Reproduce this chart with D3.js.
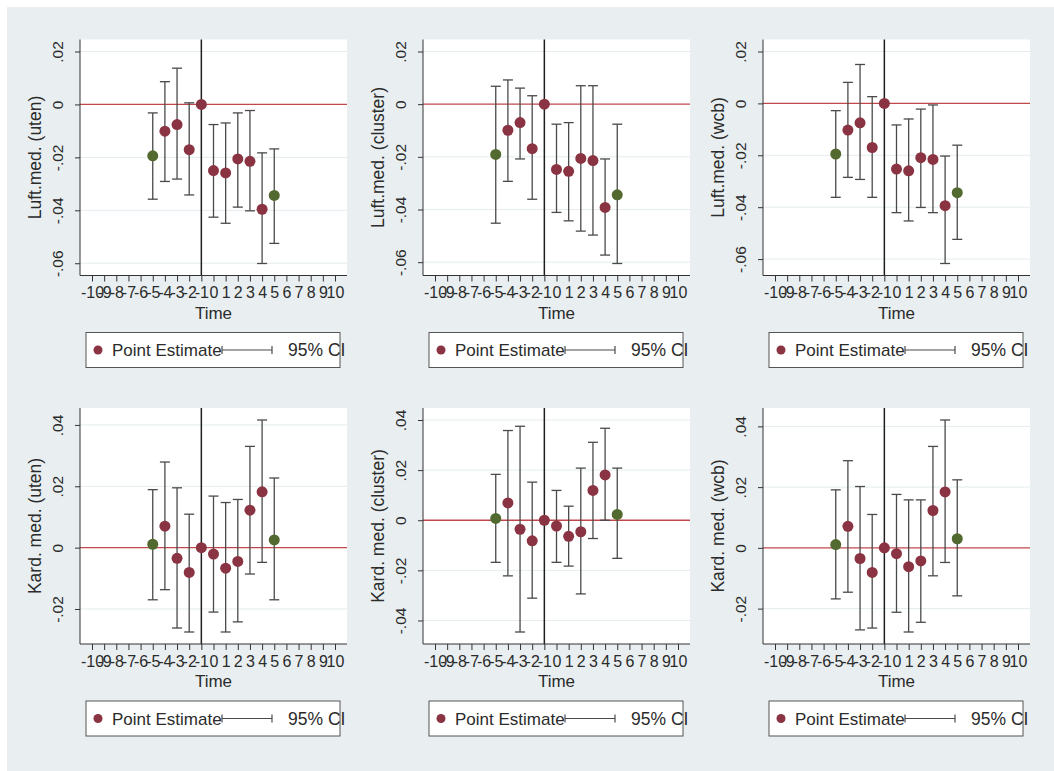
<!DOCTYPE html>
<html>
<head>
<meta charset="utf-8">
<script src="https://cdn.jsdelivr.net/npm/d3@7"></script>
<style>
  body { margin: 0; background: #ffffff; }
  svg text { font-family: "Liberation Sans", Arial, sans-serif; fill: #2b2b2b; }
</style>
</head>
<body>
<script>
//event study estimates
var periods = [-5, -4, -3, -2, -1, 0, 1, 2, 3, 4, 5];
var binnedPeriods = [-5, 5]; //endpoint bins drawn in green
var xTicks = d3.range(-10, 11);

//Luft.med.
var luftUtenEst = [-0.0194, -0.0101, -0.0076, -0.0171, 0, -0.0250, -0.0259, -0.0206, -0.0215, -0.0396, -0.0344];
var luftUtenLo  = [-0.0358, -0.0291, -0.0282, -0.0342, null, -0.0426, -0.0449, -0.0388, -0.0402, -0.0601, -0.0525];
var luftUtenHi  = [-0.0032, 0.0086, 0.0137, 0.0006, null, -0.0076, -0.0070, -0.0032, -0.0023, -0.0183, -0.0168];

var luftClusterEst = [-0.0191, -0.0099, -0.0070, -0.0169, 0, -0.0248, -0.0255, -0.0206, -0.0214, -0.0392, -0.0344];
var luftClusterLo  = [-0.0452, -0.0293, -0.0208, -0.0361, null, -0.0411, -0.0443, -0.0482, -0.0497, -0.0573, -0.0605];
var luftClusterHi  = [0.0068, 0.0092, 0.0061, 0.0032, null, -0.0076, -0.0070, 0.0070, 0.0070, -0.0208, -0.0076];

var luftWcbEst = [-0.0195, -0.0103, -0.0075, -0.0170, 0, -0.0253, -0.0260, -0.0209, -0.0216, -0.0394, -0.0344];
var luftWcbLo  = [-0.0362, -0.0285, -0.0293, -0.0362, null, -0.0421, -0.0453, -0.0401, -0.0421, -0.0617, -0.0524];
var luftWcbHi  = [-0.0028, 0.0081, 0.0150, 0.0026, null, -0.0083, -0.0060, -0.0022, -0.0006, -0.0203, -0.0161];

//Kard. med.
var kardUtenEst = [0.0011, 0.0070, -0.0035, -0.0081, 0, -0.0021, -0.0067, -0.0045, 0.0122, 0.0182, 0.0025];
var kardUtenLo  = [-0.0170, -0.0137, -0.0262, -0.0275, null, -0.0210, -0.0275, -0.0242, -0.0086, -0.0048, -0.0170];
var kardUtenHi  = [0.0189, 0.0279, 0.0195, 0.0109, null, 0.0168, 0.0147, 0.0157, 0.0330, 0.0416, 0.0227];

var kardClusterEst = [0.0007, 0.0069, -0.0036, -0.0082, 0, -0.0023, -0.0064, -0.0046, 0.0119, 0.0181, 0.0023];
var kardClusterLo  = [-0.0168, -0.0222, -0.0446, -0.0311, null, -0.0168, -0.0183, -0.0294, -0.0073, 0.0000, -0.0152];
var kardClusterHi  = [0.0183, 0.0358, 0.0375, 0.0152, null, 0.0119, 0.0056, 0.0208, 0.0311, 0.0367, 0.0208];

var kardWcbEst = [0.0011, 0.0071, -0.0035, -0.0081, 0, -0.0019, -0.0062, -0.0043, 0.0123, 0.0184, 0.0030];
var kardWcbLo  = [-0.0168, -0.0146, -0.0270, -0.0264, null, -0.0212, -0.0277, -0.0245, -0.0092, -0.0048, -0.0158];
var kardWcbHi  = [0.0191, 0.0287, 0.0202, 0.0110, null, 0.0176, 0.0158, 0.0158, 0.0334, 0.0421, 0.0224];

var yTitles = ["Luft.med. (uten)", "Luft.med. (cluster)", "Luft.med. (wcb)",
               "Kard. med. (uten)", "Kard. med. (cluster)", "Kard. med. (wcb)"];
var luftTicks = [-0.06, -0.04, -0.02, 0, 0.02];
var kardTicks = [-0.02, 0, 0.02, 0.04];
var kardClusterTicks = [-0.04, -0.02, 0, 0.02, 0.04];

var panels = [
  { title: yTitles[0], ticks: luftTicks, est: luftUtenEst, lo: luftUtenLo, hi: luftUtenHi },
  { title: yTitles[1], ticks: luftTicks, est: luftClusterEst, lo: luftClusterLo, hi: luftClusterHi },
  { title: yTitles[2], ticks: luftTicks, est: luftWcbEst, lo: luftWcbLo, hi: luftWcbHi },
  { title: yTitles[3], ticks: kardTicks, est: kardUtenEst, lo: kardUtenLo, hi: kardUtenHi },
  { title: yTitles[4], ticks: kardClusterTicks, est: kardClusterEst, lo: kardClusterLo, hi: kardClusterHi },
  { title: yTitles[5], ticks: kardTicks, est: kardWcbEst, lo: kardWcbLo, hi: kardWcbHi }
];

//layout
var width = 1054, height = 771;
var colLeft = [80, 423, 763], rowTop = [39.5, 408];
var plotW = 267, plotH = 236, inset = 12;
var maroon = "#8a3343", green = "#52692f", barColor = "#4a4a4a";

var svg = d3.select("body").append("svg")
    .attr("width", width)
    .attr("height", height);

//graph region
svg.append("rect")
    .attr("x", 7).attr("y", 7)
    .attr("width", width - 7).attr("height", height - 7)
    .attr("fill", "#e9eff1");

//stata style tick label: .02, -.02, 0 (plain hyphen as minus)
function stataFmt(d) {
    if (d === 0) return "0";
    return d.toFixed(2).replace("0.", ".");
}

panels.forEach(function (p, i) {
    var left = colLeft[i % 3], top = rowTop[Math.floor(i / 3)];
    var bottom = top + plotH, right = left + plotW;
    var g = svg.append("g");

    var x = d3.scaleLinear().domain([-10, 10]).range([left + inset, right - inset]);
    var allY = p.ticks.concat(p.est, p.lo.filter(function (v) { return v !== null; }),
                              p.hi.filter(function (v) { return v !== null; }));
    var y = d3.scaleLinear().domain(d3.extent(allY)).range([bottom - inset, top + inset]);

    //plot region
    g.append("rect")
        .attr("x", left).attr("y", top)
        .attr("width", plotW).attr("height", plotH)
        .attr("fill", "#ffffff");

    //grid
    g.selectAll(".grid")
        .data(p.ticks.filter(function (t) { return t !== 0; }))
        .enter().append("line")
        .attr("x1", left).attr("x2", right)
        .attr("y1", function (d) { return y(d); })
        .attr("y2", function (d) { return y(d); })
        .attr("stroke", "#e4ecef")
        .attr("stroke-width", 1);

    //yline(0) and xline(-1)
    g.append("line")
        .attr("x1", left).attr("x2", right)
        .attr("y1", y(0)).attr("y2", y(0))
        .attr("stroke", "#c0474c")
        .attr("stroke-width", 1.3);
    g.append("line")
        .attr("x1", x(-1)).attr("x2", x(-1))
        .attr("y1", top).attr("y2", bottom)
        .attr("stroke", "#1e1e1e")
        .attr("stroke-width", 1.5);

    //confidence intervals
    var rows = periods.map(function (t, k) {
        return { t: t, est: p.est[k], lo: p.lo[k], hi: p.hi[k] };
    });
    var ci = rows.filter(function (d) { return d.lo !== null; });
    var bars = g.selectAll(".ci").data(ci).enter().append("g")
        .attr("stroke", barColor)
        .attr("stroke-width", 1.3);
    bars.append("line")
        .attr("x1", function (d) { return x(d.t); })
        .attr("x2", function (d) { return x(d.t); })
        .attr("y1", function (d) { return y(d.lo); })
        .attr("y2", function (d) { return y(d.hi); });
    bars.append("line")
        .attr("x1", function (d) { return x(d.t) - 5; })
        .attr("x2", function (d) { return x(d.t) + 5; })
        .attr("y1", function (d) { return y(d.lo); })
        .attr("y2", function (d) { return y(d.lo); });
    bars.append("line")
        .attr("x1", function (d) { return x(d.t) - 5; })
        .attr("x2", function (d) { return x(d.t) + 5; })
        .attr("y1", function (d) { return y(d.hi); })
        .attr("y2", function (d) { return y(d.hi); });

    //point estimates
    g.selectAll(".pt").data(rows).enter().append("circle")
        .attr("cx", function (d) { return x(d.t); })
        .attr("cy", function (d) { return y(d.est); })
        .attr("r", 5.5)
        .attr("fill", function (d) { return binnedPeriods.indexOf(d.t) >= 0 ? green : maroon; });

    //axes
    var xAxis = g.append("g")
        .attr("transform", "translate(0," + bottom + ")")
        .call(d3.axisBottom(x).tickValues(xTicks).tickSize(6).tickSizeOuter(0).tickPadding(5.5)
            .tickFormat(function (d) { return String(d); }));
    xAxis.select(".domain").remove();
    xAxis.selectAll("line").attr("stroke", "#333");
    xAxis.selectAll("text").attr("font-size", 16).attr("fill", "#2b2b2b")
        .style("font-family", "'Liberation Sans', Arial, sans-serif");

    var yAxis = g.append("g")
        .attr("transform", "translate(" + left + ",0)")
        .call(d3.axisLeft(y).tickValues(p.ticks).tickSize(5).tickSizeOuter(0).tickFormat(stataFmt));
    yAxis.select(".domain").remove();
    yAxis.selectAll("line").attr("stroke", "#333");
    yAxis.selectAll("text")
        .attr("x", null).attr("dy", null)
        .attr("text-anchor", "middle")
        .attr("transform", "translate(-17,0) rotate(-90)")
        .attr("font-size", 15.5).attr("fill", "#2b2b2b")
        .style("font-family", "'Liberation Sans', Arial, sans-serif");

    g.append("line")
        .attr("x1", left).attr("x2", left)
        .attr("y1", top).attr("y2", bottom)
        .attr("stroke", "#333").attr("stroke-width", 1);
    g.append("line")
        .attr("x1", left).attr("x2", right)
        .attr("y1", bottom).attr("y2", bottom)
        .attr("stroke", "#333").attr("stroke-width", 1);

    //titles
    g.append("text")
        .attr("x", (left + right) / 2)
        .attr("y", bottom + 43)
        .attr("text-anchor", "middle")
        .attr("font-size", 17)
        .text("Time");
    g.append("text")
        .attr("transform", "translate(" + (left - 39) + "," + (top + plotH / 2) + ") rotate(-90)")
        .attr("text-anchor", "middle")
        .attr("font-size", 17.5)
        .text(p.title);

    //legend
    var lx = left + 6, ly = bottom + 57, lh = 35, mid = ly + lh / 2;
    var leg = g.append("g");
    leg.append("rect")
        .attr("x", lx).attr("y", ly)
        .attr("width", 254).attr("height", lh)
        .attr("fill", "#ffffff")
        .attr("stroke", "#555").attr("stroke-width", 1);
    leg.append("circle")
        .attr("cx", lx + 12).attr("cy", mid)
        .attr("r", 4.5).attr("fill", maroon);
    leg.append("text")
        .attr("x", lx + 26).attr("y", mid + 6.3)
        .attr("font-size", 17)
        .text("Point Estimate");
    leg.append("line")
        .attr("x1", lx + 136).attr("x2", lx + 186)
        .attr("y1", mid).attr("y2", mid)
        .attr("stroke", barColor).attr("stroke-width", 1.2);
    [lx + 136, lx + 186].forEach(function (cx) {
        leg.append("line")
            .attr("x1", cx).attr("x2", cx)
            .attr("y1", mid - 4).attr("y2", mid + 4)
            .attr("stroke", barColor).attr("stroke-width", 1.2);
    });
    leg.append("text")
        .attr("x", lx + 202).attr("y", mid + 6.3)
        .attr("font-size", 17.5)
        .text("95% CI");
});
</script>
</body>
</html>
